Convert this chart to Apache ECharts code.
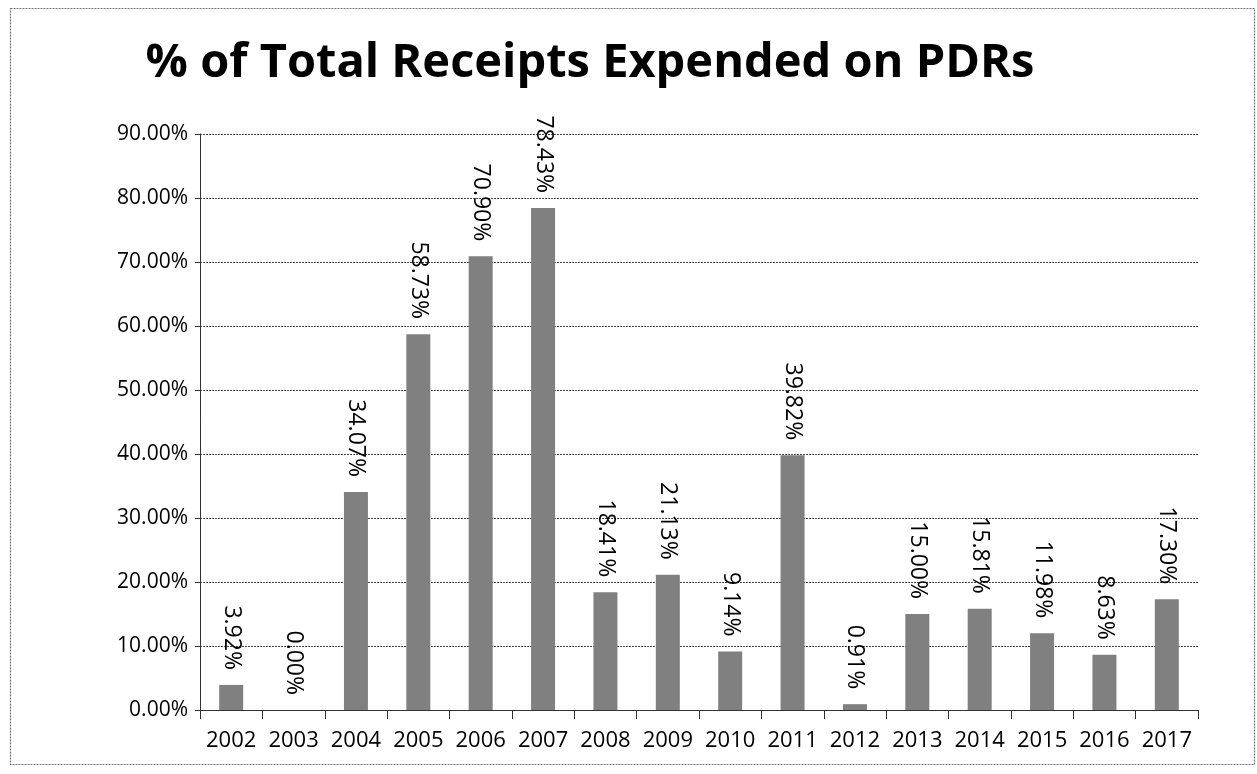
<!DOCTYPE html>
<html><head><meta charset="utf-8">
<script src="https://cdn.jsdelivr.net/npm/echarts@6/dist/echarts.min.js"></script>
<style>html,body{margin:0;padding:0;background:#fff}#c{width:1257px;height:774px}</style>
</head><body><div id="c"></div>
<script>
const categories = ['2002','2003','2004','2005','2006','2007','2008','2009','2010','2011','2012','2013','2014','2015','2016','2017'];
const values = [3.92, 0.00, 34.07, 58.73, 70.90, 78.43, 18.41, 21.13, 9.14, 39.82, 0.91, 15.00, 15.81, 11.98, 8.63, 17.30];
const titleText = '% of Total Receipts Expended on PDRs';

const chart = echarts.init(document.getElementById('c'));
chart.setOption({
  animation: false,
  backgroundColor: '#fff',
  title: {
    text: titleText, left: 585, top: 35, textAlign: 'center',
    textStyle: {fontFamily: 'Open Sans', fontWeight: 'bold', fontSize: 47, color: '#000'}
  },
  graphic: [{type: 'rect', shape: {x: 10.5, y: 8.5, width: 1244, height: 756},
    style: {fill: 'none', stroke: '#777', lineWidth: 1.2, lineDash: [2, 1]}, silent: true}],
  grid: {left: 200, right: 59, top: 134, bottom: 64},
  xAxis: {
    type: 'category', data: categories,
    axisLine: {lineStyle: {color: '#333', width: 1}},
    axisTick: {show: true, length: 9, interval: 0, lineStyle: {color: '#333'}},
    axisLabel: {color: '#000', fontSize: 22, fontFamily: 'Open Sans', margin: 20, interval: 0, hideOverlap: false}
  },
  yAxis: {
    type: 'value', min: 0, max: 90, interval: 10,
    axisLine: {show: true, lineStyle: {color: '#333'}},
    axisTick: {show: true, length: 5, lineStyle: {color: '#333'}},
    splitLine: {lineStyle: {color: '#444', width: 1, type: [2, 1]}},
    axisLabel: {color: '#000', fontSize: 21, fontFamily: 'Open Sans', margin: 12,
      formatter: v => v.toFixed(2) + '%'}
  },
  series: [{
    type: 'bar', data: values, barWidth: 24,
    itemStyle: {color: '#808080'},
    label: {
      show: true, position: 'top', rotate: -90, align: 'right', verticalAlign: 'middle',
      distance: 15, color: '#000', fontSize: 23, fontFamily: 'Open Sans',
      formatter: p => p.value.toFixed(2) + '%'
    }
  }]
});
</script></body></html>
